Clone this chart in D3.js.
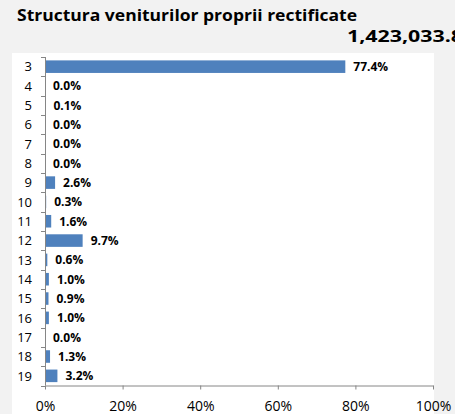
<!DOCTYPE html>
<html><head><meta charset="utf-8">
<script src="https://cdn.jsdelivr.net/npm/d3@7"></script>
<style>body{margin:0;background:#f2f2f2;}svg{display:block;}</style>
</head><body>
<svg id="chart" width="455" height="414"></svg>
<script>
const title = "Structura veniturilor proprii rectificate";
const totalLabel = "1,423,033.8";
const categories = ["3","4","5","6","7","8","9","10","11","12","13","14","15","16","17","18","19"];
const values = [77.4, 0.0, 0.1, 0.0, 0.0, 0.0, 2.6, 0.3, 1.6, 9.7, 0.6, 1.0, 0.9, 1.0, 0.0, 1.3, 3.2];
const xTicks = [0, 20, 40, 60, 80, 100];

const svg = d3.select("#chart");
const font = "Open Sans, Liberation Sans, sans-serif";

svg.append("rect").attr("x",0).attr("y",0).attr("width",455).attr("height",414).attr("fill","#f2f2f2");
svg.append("rect").attr("x",12).attr("y",53).attr("width",422).attr("height",361).attr("fill","#ffffff");

svg.append("text").attr("x",17).attr("y",21).attr("font-family",font).attr("font-weight","bold")
  .attr("font-size",16).attr("fill","#000").attr("textLength",340).attr("lengthAdjust","spacingAndGlyphs").text(title);
svg.append("text").attr("x",347).attr("y",42).attr("font-family",font).attr("font-weight","bold")
  .attr("font-size",16).attr("fill","#000").attr("textLength",116).attr("lengthAdjust","spacingAndGlyphs").text(totalLabel);

const x = d3.scaleLinear().domain([0,100]).range([45,433]);
const y = d3.scaleBand().domain(categories).range([57,385.5]).paddingInner(0.35).paddingOuter(0.175);
const yOuter = d3.scaleBand().domain(categories).range([57,385.5]);

// bars
svg.append("g").selectAll("rect").data(values).join("rect")
  .attr("x", x(0)).attr("y",(d,i)=>y(categories[i]))
  .attr("width", d=>x(d)-x(0)).attr("height", y.bandwidth())
  .attr("fill","#4f81bd");

// value labels
svg.append("g").selectAll("text").data(values).join("text")
  .attr("x", d=>x(d)+8).attr("y",(d,i)=>y(categories[i])+y.bandwidth()/2)
  .attr("dy","0.36em").attr("font-family",font).attr("font-weight","bold").attr("font-size",12)
  .attr("fill","#000").text(d=>d.toFixed(1)+"%");

// y axis
const yAxisG = svg.append("g");
yAxisG.append("line").attr("x1",45.5).attr("x2",45.5).attr("y1",57).attr("y2",385.5).attr("stroke","#868686");
const bounds = categories.map(c=>yOuter(c)).concat([385.5]);
yAxisG.selectAll("line.t").data(bounds).join("line").attr("class","t")
  .attr("x1",41).attr("x2",45.5).attr("y1",d=>Math.round(d)+0.5).attr("y2",d=>Math.round(d)+0.5).attr("stroke","#868686");
yAxisG.selectAll("text").data(categories).join("text")
  .attr("x",32).attr("y",c=>yOuter(c)+yOuter.bandwidth()/2).attr("dy","0.36em")
  .attr("text-anchor","end").attr("font-family",font).attr("font-size",13).attr("fill","#000").text(c=>c);

// x axis
const xAxis = d3.axisBottom(x).tickValues(xTicks).tickSize(4).tickSizeOuter(0).tickFormat(d=>d+"%");
const xg = svg.append("g").attr("transform","translate(0,385.5)").call(xAxis);
xg.select(".domain").attr("stroke","#868686");
xg.selectAll(".tick line").attr("stroke","#868686");
xg.selectAll(".tick text").attr("font-family",font).attr("font-size",14).attr("fill","#000").attr("y",15.5).attr("dy","0.71em");
</script>
</body></html>
